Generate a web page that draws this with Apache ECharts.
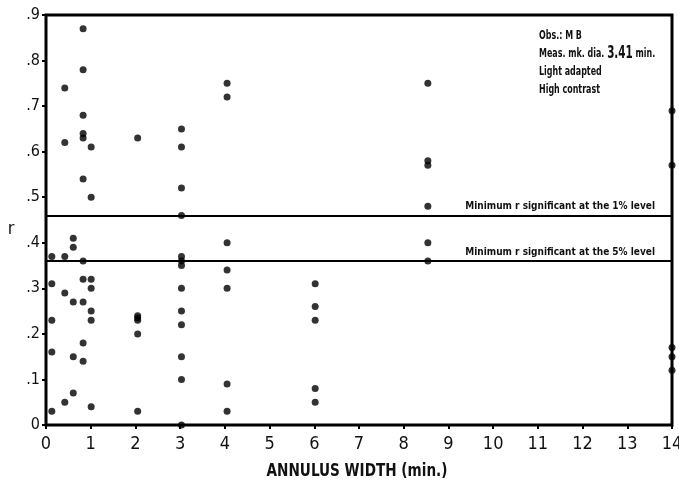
<!DOCTYPE html>
<html>
<head>
<meta charset="utf-8">
<script src="https://cdn.jsdelivr.net/npm/echarts@6/dist/echarts.min.js"></script>
<style>
html,body{margin:0;padding:0;background:#fff;}
#c{width:679px;height:483px;}
</style>
</head>
<body>
<div id="c"></div>
<script>
var FONT = "'Liberation Sans Narrow', 'DejaVu Sans Condensed', 'Roboto', sans-serif";

// annulus widths (min.) and r values read at each width
var widths = [0.13, 0.42, 0.61, 0.83, 1.01, 2.05, 3.03, 4.05, 6.02, 8.54, 14];
var rValues = [
  [0.37, 0.31, 0.23, 0.16, 0.03],
  [0.74, 0.62, 0.37, 0.29, 0.05],
  [0.41, 0.39, 0.27, 0.15, 0.07],
  [0.87, 0.78, 0.68, 0.64, 0.63, 0.54, 0.36, 0.32, 0.27, 0.18, 0.14],
  [0.61, 0.50, 0.32, 0.30, 0.25, 0.23, 0.04],
  [0.63, 0.24, 0.235, 0.23, 0.20, 0.03],
  [0.65, 0.61, 0.52, 0.46, 0.37, 0.36, 0.35, 0.30, 0.25, 0.22, 0.15, 0.10, 0.0],
  [0.75, 0.72, 0.40, 0.34, 0.30, 0.09, 0.03],
  [0.31, 0.26, 0.23, 0.08, 0.05],
  [0.75, 0.58, 0.57, 0.48, 0.40, 0.36],
  [0.69, 0.57, 0.17, 0.15, 0.12]
];
var sigLevels = [0.46, 0.36];
var sigLabels = ['Minimum r significant at the 1% level', 'Minimum r significant at the 5% level'];
var xTicks = [0,1,2,3,4,5,6,7,8,9,10,11,12,13,14];
var yTicks = ['0', '.1', '.2', '.3', '.4', '.5', '.6', '.7', '.8', '.9'];
var notes = ['Obs.: M B', 'Meas. mk. dia. {b|3.41} min.', 'Light adapted', 'High contrast'];
var xTitle = 'ANNULUS WIDTH (min.)';
var yTitle = 'r';

var points = [];
widths.forEach(function (w, i) {
  rValues[i].forEach(function (r) { points.push([w, r]); });
});

var chart = echarts.init(document.getElementById('c'), null, {renderer: 'canvas'});
chart.setOption({
  animation: false,
  backgroundColor: '#fff',
  grid: {
    left: 46, right: 7, top: 15, bottom: 58,
    outerBoundsMode: 'none',
    containLabel: false,
    show: true, borderColor: '#000', borderWidth: 3, backgroundColor: 'transparent'
  },
  xAxis: {
    type: 'value', min: 0, max: 14, interval: 1,
    axisLine: {show: false},
    axisTick: {show: true, inside: false, length: 4, lineStyle: {color: '#000', width: 2}},
    splitLine: {show: false},
    axisLabel: {
      color: '#111', fontFamily: FONT, fontSize: 18, margin: 10,
      formatter: function (v) { return String(xTicks[Math.round(v)]); }
    }
  },
  yAxis: {
    type: 'value', min: 0, max: 0.9, interval: 0.1,
    axisLine: {show: false},
    axisTick: {show: true, inside: false, length: 4, lineStyle: {color: '#000', width: 2}},
    splitLine: {show: false},
    axisLabel: {
      color: '#111', fontFamily: FONT, fontSize: 16, margin: 6,
      padding: [6, 0, 0, 0],
      formatter: function (v) { return yTicks[Math.round(v * 10)]; }
    }
  },
  series: [{
    type: 'scatter',
    data: points,
    symbol: 'circle',
    symbolSize: 7,
    clip: false,
    itemStyle: {color: '#000'},
    z: 5,
    markLine: {
      silent: true,
      symbol: ['none', 'none'],
      lineStyle: {color: '#000', width: 2, type: 'solid'},
      label: {
        show: true, position: 'insideEndTop',
        color: '#111', fontFamily: FONT, fontSize: 10, fontWeight: 'bold',
        distance: [17, 4],
        formatter: function (p) { return p.name; }
      },
      data: sigLevels.map(function (v, i) { return {yAxis: v, name: sigLabels[i]}; })
    }
  }],
  graphic: [{
    type: 'text',
    x: 539, y: 27,
    scaleX: 0.68,
    style: {
      text: notes.join('\n'),
      fill: '#111',
      font: 'bold 13px ' + FONT,
      lineHeight: 18,
      rich: {
        b: {font: 'bold 17px ' + FONT, fill: '#111', lineHeight: 18}
      }
    }
  }, {
    type: 'text',
    x: 357, y: 471,
    scaleX: 0.84,
    style: {
      text: xTitle,
      fill: '#111',
      font: 'bold 18px ' + FONT,
      align: 'center',
      verticalAlign: 'middle'
    }
  }, {
    type: 'text',
    x: 11, y: 229,
    style: {
      text: yTitle,
      fill: '#111',
      font: '18px ' + FONT,
      align: 'center',
      verticalAlign: 'middle'
    }
  }]
});
</script>
</body>
</html>
